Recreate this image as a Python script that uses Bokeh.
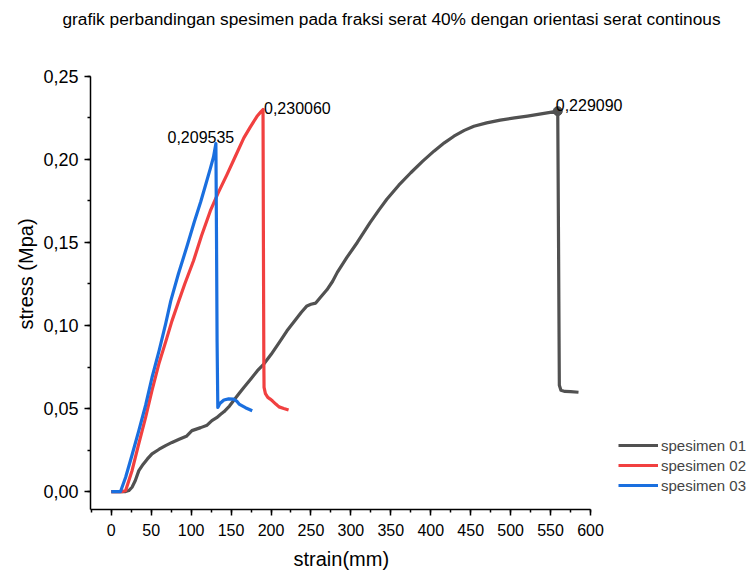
from bokeh.plotting import figure
from bokeh.models import (Range1d, SingleIntervalTicker, CustomJSTickFormatter,
                          Legend, LegendItem, Title)
from bokeh.core.properties import value
from bokeh.embed import file_html
from bokeh.resources import INLINE

# ---------------- data ----------------
strain_01 = [0, 10, 18, 22, 26, 30, 34.5, 40, 45, 51, 60, 68, 76, 85, 94, 101, 112, 120,
             126, 132, 137, 141, 148, 153, 160, 166, 175, 183, 191, 200, 210, 220, 230,
             238, 245, 250, 256, 262, 270, 277, 283, 295, 308, 324, 335, 345, 360, 375,
             390, 404, 417, 429, 442, 454, 470, 487, 505, 521, 540, 559, 560, 561, 563,
             568, 575, 585]
stress_01 = [0, 0, 0, 0.0006, 0.0026, 0.0065, 0.0126, 0.0165, 0.0195, 0.0227, 0.0255,
             0.0277, 0.0296, 0.0315, 0.0333, 0.0367, 0.0385, 0.0400, 0.0427, 0.0445,
             0.0465, 0.0480, 0.0515, 0.0547, 0.0590, 0.0627, 0.0680, 0.0728, 0.0768,
             0.0825, 0.0895, 0.0968, 0.1030, 0.1080, 0.1118, 0.1128, 0.1135, 0.1170,
             0.1215, 0.1265, 0.1320, 0.1410, 0.1500, 0.1620, 0.1695, 0.1760, 0.1845,
             0.1920, 0.1990, 0.2050, 0.2100, 0.2140, 0.2175, 0.2200, 0.2220, 0.2237,
             0.2250, 0.2261, 0.2276, 0.229090, 0.15, 0.0640, 0.0610, 0.0603, 0.0602,
             0.0598]

strain_02 = [0, 8, 14, 18, 26, 34, 43, 51, 59.5, 68, 76, 84, 92, 103, 113, 124, 134, 145,
             155, 166, 174, 182.5, 187, 190, 190.5, 191, 191.3, 193, 196, 199, 202, 206,
             210, 216, 222]
stress_02 = [0, 0, 0, 0.0006, 0.0126, 0.0280, 0.0447, 0.0610, 0.0768, 0.0900, 0.1028,
             0.1140, 0.1250, 0.1390, 0.1540, 0.1690, 0.1800, 0.1910, 0.2015, 0.2130,
             0.2195, 0.2260, 0.2285, 0.230060, 0.15, 0.08, 0.0627, 0.0590, 0.0567,
             0.0557, 0.0545, 0.0527, 0.0510, 0.0500, 0.0491]

strain_03 = [0, 5, 11.6, 18, 26, 34.5, 43, 51, 60, 68, 74.5, 84, 95, 104, 112, 118, 124,
             128, 131, 131.8, 132.5, 133.4, 136, 141, 147, 153, 157, 160, 168, 176.5]
stress_03 = [0, 0, 0, 0.0086, 0.0220, 0.0367, 0.0520, 0.0687, 0.0850, 0.1008, 0.1148,
             0.1310, 0.1480, 0.1625, 0.1745, 0.1845, 0.1945, 0.2015, 0.209535, 0.15,
             0.09, 0.0507, 0.0530, 0.0551, 0.0558, 0.0557, 0.0545, 0.0527, 0.0505,
             0.0487]

series_names = ["spesimen 01", "spesimen 02", "spesimen 03"]
peak_labels = ["0,229090", "0,230060", "0,209535"]

title_text = "grafik perbandingan spesimen pada fraksi serat 40% dengan orientasi serat continous"
x_label = "strain(mm)"
y_label = "stress (Mpa)"

x_axis_extent = (-26, 600)
y_axis_extent = (-0.0108, 0.25)

colors = ["#515151", "#F14040", "#1A6FDF"]
FONT = "Liberation Sans"

# ---------------- figure ----------------
# frame spans to the right edge so the legend and labels are not clipped;
# the axes themselves are bounded to the reference extent.
p = figure(width=753, height=578, output_backend="svg", toolbar_location=None,
           x_range=Range1d(-26, 804.1), y_range=Range1d(-0.0108, 0.272837),
           min_border_left=90, min_border_right=0, min_border_top=37,
           min_border_bottom=69)
p.outline_line_color = None
p.grid.visible = False
p.background_fill_color = "white"
p.border_fill_color = "white"

p.xaxis.ticker = SingleIntervalTicker(interval=50, num_minor_ticks=2)
p.yaxis.ticker = SingleIntervalTicker(interval=0.05, num_minor_ticks=2)
p.yaxis.formatter = CustomJSTickFormatter(code="return tick.toFixed(2).replace('.', ',');")
p.xaxis.bounds = x_axis_extent
p.yaxis.bounds = y_axis_extent

for ax in (p.xaxis[0], p.yaxis[0]):
    ax.axis_line_width = 1.5
    ax.axis_line_color = "black"
    ax.major_tick_line_color = "black"
    ax.minor_tick_line_color = "black"
    ax.major_tick_line_width = 1.5
    ax.minor_tick_line_width = 1.5
    ax.major_tick_out = 6
    ax.major_tick_in = 0
    ax.minor_tick_out = 3
    ax.minor_tick_in = 0
    ax.major_label_text_font = FONT
    ax.major_label_text_color = "black"
    ax.axis_label_text_font = FONT
    ax.axis_label_text_font_size = "20px"
    ax.axis_label_text_font_style = "normal"
    ax.axis_label_text_color = "black"

p.xaxis.major_label_text_font_size = "16px"
p.yaxis.major_label_text_font_size = "18px"
p.yaxis.axis_label = y_label
p.xaxis.major_label_standoff = 8
p.yaxis.major_label_standoff = 6
p.yaxis.axis_label_standoff = 3

# x-axis title placed under the bounded axis (centred on the axis, not the frame)
xtitle = Title(text=x_label, align="left", offset=203, standoff=14,
               vertical_align="bottom",
               text_font=FONT, text_font_size="20px", text_font_style="normal",
               text_color="black")
p.add_layout(xtitle, "below")

r1 = p.line(strain_01, stress_01, line_color=colors[0], line_width=3.2, line_join="round")
r2 = p.line(strain_02, stress_02, line_color=colors[1], line_width=3.2, line_join="round")
r3 = p.line(strain_03, stress_03, line_color=colors[2], line_width=3.2, line_join="round")

# peak marker on spesimen 01
i1 = stress_01.index(max(stress_01))
i2 = stress_02.index(max(stress_02))
i3 = stress_03.index(max(stress_03))
p.scatter([strain_01[i1]], [stress_01[i1]], size=9, color=colors[0])

common = dict(text_font=value(FONT), text_font_size="16px", text_color="black",
              text_baseline="alphabetic")
p.text([strain_01[i1]], [stress_01[i1]], text=[peak_labels[0]], text_align="left",
       x_offset=-2, y_offset=-6, **common)
p.text([strain_02[i2]], [stress_02[i2]], text=[peak_labels[1]], text_align="left",
       x_offset=1, y_offset=-2, **common)
p.text([strain_03[i3]], [stress_03[i3]], text=[peak_labels[2]], text_align="center",
       x_offset=-15, y_offset=-7, **common)

legend = Legend(items=[LegendItem(label=series_names[0], renderers=[r1]),
                       LegendItem(label=series_names[1], renderers=[r2]),
                       LegendItem(label=series_names[2], renderers=[r3])],
                location=(528, 14), orientation="vertical",
                label_text_font=FONT, label_text_font_size="15px",
                glyph_width=40, glyph_height=20, label_height=20, label_standoff=3,
                spacing=0, padding=0, margin=0,
                border_line_alpha=0, background_fill_alpha=0)
p.add_layout(legend, "center")

title = Title(text=title_text, align="left", offset=-28, standoff=16,
              vertical_align="top",
              text_font=FONT, text_font_size="17.3px", text_font_style="normal",
              text_color="black")
p.add_layout(title, "above")

open("out.html", "w").write(file_html(p, INLINE))
